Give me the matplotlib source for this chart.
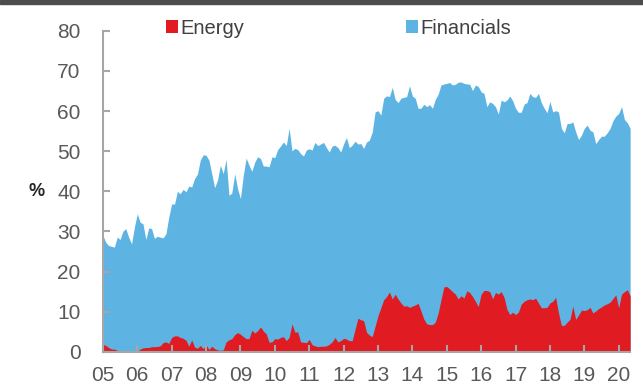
import matplotlib.pyplot as plt
from matplotlib.patches import Rectangle
import numpy as np

plt.rcParams['font.family'] = ['Liberation Sans', 'DejaVu Sans']

# monthly data, Jan 2005 onwards (%)
start_year = 2005
financials = [
    29.0, 27.3, 26.5, 26.3, 26.1, 28.6, 28.0, 30.1, 30.7, 28.6, 26.9, 31.1,
    34.4, 32.3, 31.9, 28.0, 30.9, 30.7, 28.3, 28.8, 28.6, 28.4, 29.4, 33.6,
    36.9, 36.8, 40.0, 39.4, 40.5, 39.9, 41.3, 41.1, 43.2, 44.3, 47.8, 49.1,
    49.0, 47.8, 44.4, 40.9, 42.8, 46.5, 44.4, 48.0, 39.0, 39.6, 44.4, 40.7,
    38.2, 44.0, 48.3, 46.5, 45.0, 47.3, 48.6, 48.2, 46.3, 46.3, 46.1, 48.6,
    48.4, 50.4, 51.3, 52.3, 51.4, 55.7, 50.1, 50.7, 50.4, 49.4, 48.8, 50.3,
    50.6, 50.3, 52.2, 51.4, 51.8, 52.2, 50.9, 49.8, 51.3, 51.5, 50.9, 49.8,
    51.8, 53.4, 50.9, 51.5, 52.5, 51.8, 51.9, 50.7, 52.3,
    52.75, 54.8, 59.8, 60.1, 59.0, 63.2, 63.8, 63.6, 65.9, 62.9, 62.1, 63.2,
    63.4, 63.6, 66.3, 63.75, 63.2, 60.7, 60.7, 61.7, 61.1, 61.6, 60.7, 62.9,
    64.2, 66.5, 66.75, 66.9, 67.1, 66.5, 66.7, 67.2, 67.25, 66.9, 66.75, 66.7,
    65.1, 66.5, 66.1, 64.8, 64.4, 61.1, 62.3, 61.9, 61.1, 59.25, 62.75, 62.3,
    62.75, 63.75, 62.6, 60.7, 59.7, 59.7, 61.75, 62.1, 64.4, 63.6, 63.4, 64.4,
    62.1, 60.7, 59.6, 62.4, 59.8, 60.1, 59.8, 55.7, 54.6, 56.9, 56.9, 57.3,
    54.8, 52.9, 54.0, 55.7, 56.5, 55.25, 54.8, 51.9, 52.9, 53.75, 53.75, 54.6,
    55.7, 57.6, 58.75, 59.4, 61.1, 57.9, 57.1, 55.7,
]
energy = [
    1.9, 1.6, 1.1, 0.7, 0.7, 0.4, 0.1, 0.0, 0.0, 0.0, 0.0, 0.0,
    0.1, 0.7, 1.0, 1.1, 1.1, 1.3, 1.3, 1.35, 1.5, 2.3, 2.5, 2.1,
    3.6, 4.0, 4.0, 3.6, 3.4, 2.9, 1.4, 3.0, 1.2, 0.9, 1.6, 0.8,
    1.8, 0.6, 1.4, 0.8, 0.5, 0.4, 0.5, 2.5, 3.0, 3.3, 4.3, 4.8,
    4.4, 3.8, 3.3, 3.3, 5.4, 4.7, 5.3, 6.2, 5.2, 4.5, 2.4, 2.5,
    3.3, 3.2, 3.6, 3.8, 2.8, 3.6, 7.0, 4.9, 5.0, 2.5, 2.4, 2.3,
    3.1, 1.8, 1.5, 1.3, 1.4, 1.4, 1.5, 1.9, 2.5, 3.6, 2.5, 2.8,
    3.4, 3.2, 2.8, 2.8, 5.6, 8.4, 8.0, 7.8, 4.9, 4.2, 3.8, 6.4,
    9.0, 11.0, 13.0, 13.8, 14.9, 13.2, 14.4, 13.2, 12.2, 11.4, 11.5, 11.1,
    11.4, 11.7, 12.1, 10.2, 8.2, 7.0, 6.8, 6.8, 7.4, 9.7, 13.0, 16.2,
    16.3, 15.7, 15.0, 14.4, 13.2, 14.0, 13.4, 15.2, 14.8, 13.8, 12.6, 11.3,
    14.4, 15.3, 15.3, 15.0, 13.2, 14.8, 14.4, 15.0, 13.6, 10.6, 9.3, 9.9,
    9.3, 9.9, 11.9, 12.6, 13.0, 13.2, 13.0, 13.4, 12.2, 11.0, 11.0, 11.1,
    12.2, 12.6, 13.6, 9.7, 6.6, 6.6, 7.4, 8.1, 11.4, 8.1, 9.2, 10.4,
    10.3, 10.5, 11.1, 9.7, 10.2, 10.8, 11.2, 11.7, 12.0, 12.4, 13.3, 14.2,
    11.0, 14.4, 15.0, 15.5, 14.0,
]
years = list(range(2005, 2021))
year_labels = ['%02d' % (y % 100) for y in years]
yticks = list(range(0, 90, 10))

blue = '#5db4e3'
red = '#e01b22'
gray = '#a6a6a6'
text_col = '#595959'

x = start_year + np.arange(len(financials)) / 12.0

fig = plt.figure(figsize=(6.43, 3.85), dpi=100)
ax = fig.add_axes([0.160, 0.086, 0.820, 0.834])

# blue drawn behind, red in front
fin_fill = ax.fill_between(x, 0, financials, color=blue, linewidth=0, label='Financials')
en_fill = ax.fill_between(x, 0, energy, color=red, linewidth=0, label='Energy')

ax.set_xlim(start_year, x[-1])
ax.set_ylim(0, 80)
ax.set_xticks(years)
ax.set_xticklabels(year_labels)
ax.set_yticks(yticks)

for s in ['top', 'right']:
    ax.spines[s].set_visible(False)
for s in ['left', 'bottom']:
    ax.spines[s].set_color(gray)
    ax.spines[s].set_linewidth(1.5)
    ax.spines[s].set_zorder(5)

ax.tick_params(axis='both', direction='in', length=5, width=1.5, color=gray,
               labelsize=15, labelcolor=text_col)
ax.tick_params(axis='x', pad=10)
ax.tick_params(axis='y', pad=16)

ax.text(-0.125, 0.5, '%', transform=ax.transAxes, fontsize=13, fontweight='bold',
        ha='center', va='center', color='#262626')

leg = fig.legend(handles=[en_fill, fin_fill], loc='center left',
                 bbox_to_anchor=(0.245, 0.927), ncol=2, frameon=False,
                 fontsize=14.5, handlelength=0.6, handleheight=0.6,
                 handletextpad=0.15, columnspacing=8.0, borderaxespad=0)
for t in leg.get_texts():
    t.set_color('#404040')

# dark bar along the top edge
fig.patches.append(Rectangle((0, 0.99), 1, 0.01, transform=fig.transFigure,
                             color='#4d4d4f', zorder=10))

fig.savefig('out.png', dpi=100)
